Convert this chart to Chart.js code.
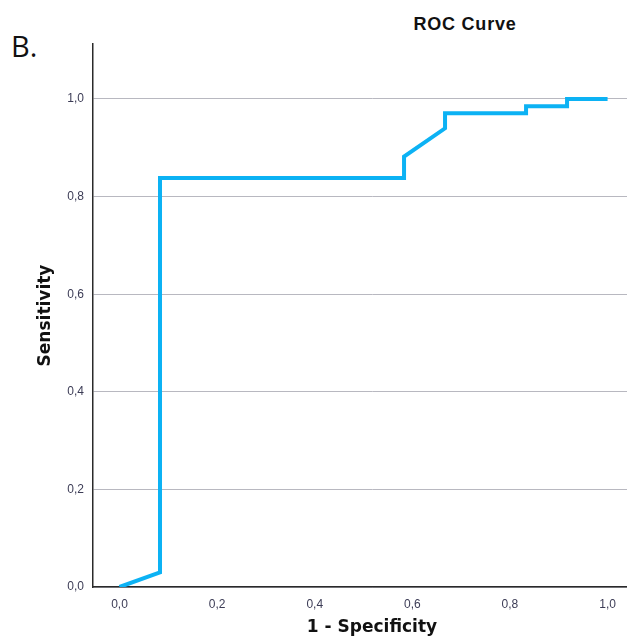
<!DOCTYPE html>
<html>
<head>
<meta charset="utf-8">
<script src="https://cdn.jsdelivr.net/npm/chart.js@4/dist/chart.umd.min.js"></script>
<style>
    html, body { margin: 0; padding: 0; background: #fff; overflow: hidden; width: 627px; height: 637px; }
    #wrap { position: relative; width: 627px; height: 637px; overflow: hidden; }
    #rocChart { position: absolute; left: 0; top: 0; }
    .panel-tag { position: absolute; left: 11px; top: 31px; font: 400 29px "Open Sans", sans-serif; color: #111; line-height: 1; }
    .chart-title { position: absolute; left: 365px; width: 200px; top: 15px; text-align: center; font: bold 18px "Liberation Sans", Arial, sans-serif; letter-spacing: 0.8px; color: #111; line-height: 1; }
</style>
</head>
<body>
<div id="wrap">
    <div class="panel-tag">B.</div>
    <div class="chart-title">ROC Curve</div>
    <canvas id="rocChart" width="651" height="637"></canvas>
</div>
<script>
// ROC points
const fpr = [0, 0.083, 0.083, 0.583, 0.583, 0.667, 0.667, 0.833, 0.833, 0.917, 0.917, 1.0];
const tpr = [0, 0.030, 0.838, 0.838, 0.882, 0.940, 0.971, 0.971, 0.985, 0.985, 1.0, 1.0];
const tickValues = [0, 0.2, 0.4, 0.6, 0.8, 1.0];
const xTitle = '1 - Specificity';
const yTitle = 'Sensitivity';

const fmt = v => Number(v).toFixed(1).replace('.', ',');
const tickFont = { family: 'Liberation Sans', size: 12 };
const axisTitleFont = { family: 'DejaVu Sans', size: 17, weight: 'bold', lineHeight: 1 };

const ctx = document.getElementById('rocChart').getContext('2d');
new Chart(ctx, {
    type: 'line',
    data: {
        datasets: [{
            data: fpr.map((x, i) => ({ x: x, y: tpr[i] })),
            borderColor: '#0cb2f4',
            borderWidth: 4,
            pointRadius: 0,
            tension: 0,
            fill: false,
            borderJoinStyle: 'miter'
        }]
    },
    options: {
        responsive: false,
        animation: false,
        devicePixelRatio: 1,
        layout: { padding: { top: 44, left: 0, right: 0, bottom: 0 } },
        plugins: { legend: { display: false }, tooltip: { enabled: false } },
        scales: {
            x: {
                type: 'linear',
                min: -0.0543,
                max: 1.089,
                afterBuildTicks: s => { s.ticks = tickValues.map(v => ({ value: v })); },
                afterFit: s => { s.height = 50; },
                grid: { display: false, drawTicks: false },
                border: { color: '#2a2a2a', width: 1.5 },
                ticks: { font: tickFont, color: '#3c3c56', padding: 10, callback: fmt, maxRotation: 0 },
                title: { display: true, text: xTitle, font: axisTitleFont, color: '#111', padding: { top: 0, bottom: 1 } }
            },
            y: {
                type: 'linear',
                min: 0,
                max: 1.1127,
                afterBuildTicks: s => { s.ticks = tickValues.map(v => ({ value: v })); },
                afterFit: s => { s.width = 93; },
                grid: { color: '#b8b8c0', lineWidth: 1, drawTicks: false },
                border: { color: '#2a2a2a', width: 1.5 },
                ticks: { font: tickFont, color: '#3c3c56', padding: 9, callback: fmt },
                title: { display: true, text: yTitle, font: axisTitleFont, color: '#111', padding: { top: 37, bottom: 0 } }
            }
        }
    }
});
</script>
</body>
</html>
